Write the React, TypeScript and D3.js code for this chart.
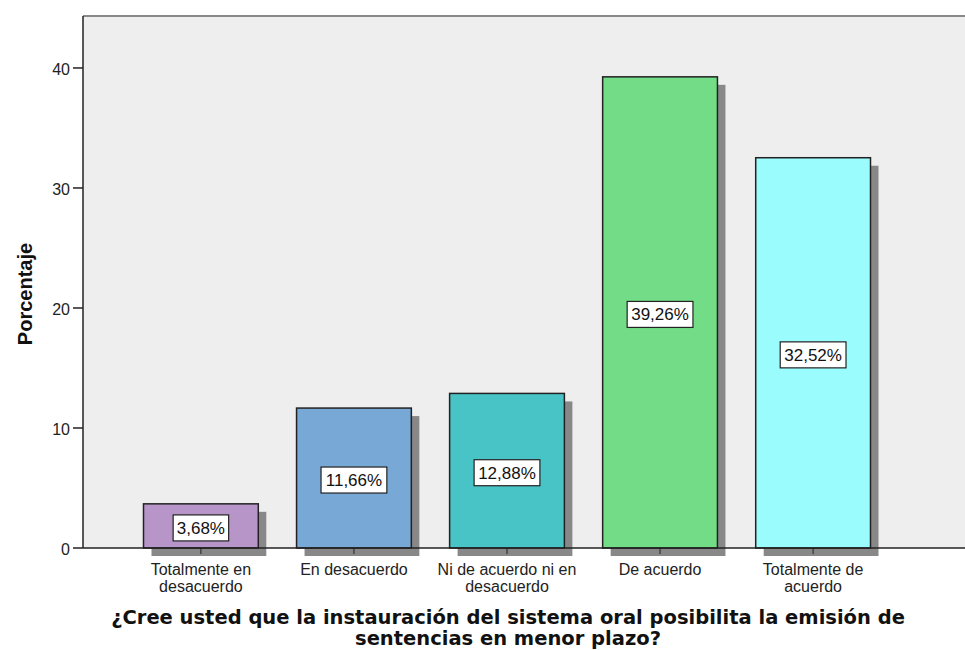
import React from "react";
import * as d3 from "d3";

const categories = [
  ["Totalmente en", "desacuerdo"],
  ["En desacuerdo"],
  ["Ni de acuerdo ni en", "desacuerdo"],
  ["De acuerdo"],
  ["Totalmente de", "acuerdo"],
];
const values = [3.68, 11.66, 12.88, 39.26, 32.52];
const labels = ["3,68%", "11,66%", "12,88%", "39,26%", "32,52%"];
const colors = ["#b795c8", "#78a8d6", "#48c3c6", "#72dd86", "#9afcfc"];
const yTicks = [0, 10, 20, 30, 40];
const titleLines = [
  "¿Cree usted que la instauración del sistema oral posibilita la emisión de",
  "sentencias en menor plazo?",
];

export default function App() {
  const W = 965, H = 650;
  const left = 83, right = 965, top = 16, bottom = 548;
  const y = d3.scaleLinear().domain([0, 44.33]).range([bottom, top]);
  const x = d3
    .scaleBand<number>()
    .domain(d3.range(values.length))
    .range([143.5, 870.5])
    .paddingInner(0.25)
    .paddingOuter(0);
  const bw = x.bandwidth();
  const sh = 8;
  return (
    <svg
      width={W}
      height={H}
      style={{ position: "absolute", left: 0, top: 0, display: "block" }}
      fontFamily="'Liberation Sans', Arial, sans-serif"
    >
      <rect x={0} y={0} width={W} height={H} fill="#fff" />
      <rect x={left} y={top} width={right - left} height={bottom - top} fill="#eeeeee" />
      <line x1={left} x2={right} y1={top} y2={top} stroke="#888" strokeWidth={2} />
      {values.map((v, i) => (
        <rect
          key={"s" + i}
          x={(x(i) as number) + sh}
          y={y(v) + sh}
          width={bw}
          height={bottom - y(v)}
          fill="#888"
        />
      ))}
      {values.map((v, i) => (
        <rect
          key={"b" + i}
          x={x(i) as number}
          y={y(v)}
          width={bw}
          height={bottom - y(v)}
          fill={colors[i]}
          stroke="#222"
          strokeWidth={1.5}
        />
      ))}
      <line x1={left} x2={right} y1={bottom} y2={bottom} stroke="#222" strokeWidth={1.5} />
      <line x1={left} x2={left} y1={top} y2={bottom} stroke="#222" strokeWidth={1.5} />
      {yTicks.map((t) => (
        <g key={t}>
          <line x1={left - 10} x2={left} y1={y(t)} y2={y(t)} stroke="#222" strokeWidth={1.5} />
          <text x={left - 13} y={y(t) + 7} textAnchor="end" fontSize={16} fill="#222">
            {t}
          </text>
        </g>
      ))}
      {values.map((v, i) => {
        const cx = (x(i) as number) + bw / 2;
        const cy = (y(v) + bottom) / 2 + 2;
        const w = labels[i].length * 10.3 + 4;
        return (
          <g key={"l" + i}>
            <rect x={cx - w / 2} y={cy - 13} width={w} height={26} fill="#fff" stroke="#222" strokeWidth={1.2} />
            <text x={cx} y={cy + 6} textAnchor="middle" fontSize={17} fill="#111">
              {labels[i]}
            </text>
          </g>
        );
      })}
      {categories.map((c, i) => {
        const cx = (x(i) as number) + bw / 2;
        return (
          <g key={"c" + i}>
            <line x1={cx} x2={cx} y1={bottom} y2={bottom + 6} stroke="#222" strokeWidth={1} />
            {c.map((ln, j) => (
              <text key={j} x={cx} y={575 + j * 16.5} textAnchor="middle" fontSize={16} fill="#222">
                {ln}
              </text>
            ))}
          </g>
        );
      })}
      <text
        transform="translate(32,294) rotate(-90)"
        textAnchor="middle"
        fontSize={20}
        fontWeight="bold"
        fill="#111"
      >
        Porcentaje
      </text>
      {titleLines.map((ln, j) => (
        <text
          key={j}
          x={508}
          y={624 + j * 21}
          textAnchor="middle"
          fontSize={19.5}
          fontWeight="bold"
          fontFamily="'DejaVu Sans', Verdana, sans-serif"
          fill="#111"
        >
          {ln}
        </text>
      ))}
    </svg>
  );
}
